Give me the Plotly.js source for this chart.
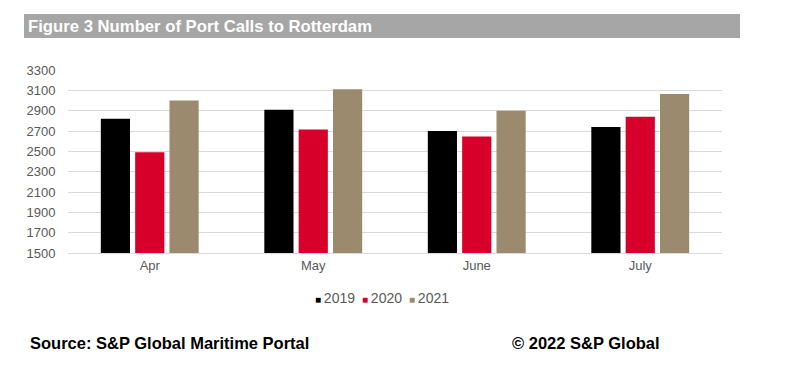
<!DOCTYPE html>
<html>
<head>
<meta charset="utf-8">
<script src="https://cdn.plot.ly/plotly-3.0.1.min.js"></script>
<style>html,body{margin:0;padding:0;background:#fff;}#chart{width:801px;height:374px;}</style>
</head>
<body>
<div id="chart"></div>
<script>
const months = ["Apr", "May", "June", "July"];
const years = ["2019", "2020", "2021"];
const calls2019 = [2820, 2910, 2700, 2740];
const calls2020 = [2490, 2715, 2645, 2840];
const calls2021 = [3000, 3110, 2900, 3065];
const yTicks = [1500, 1700, 1900, 2100, 2300, 2500, 2700, 2900, 3100, 3300];
const colors = ["#000000", "#d6002a", "#9c8a6e"];

const series = [calls2019, calls2020, calls2021];
const data = series.map((vals, i) => ({
  type: "bar",
  name: years[i],
  x: months,
  y: vals,
  marker: {color: colors[i]},
  hoverinfo: "skip"
}));

const legendText = years.map((y, i) =>
  '<span style="color:' + colors[i] + ';font-size:10px">■</span>\u2009' + y).join('\u2002');

const layout = {
  width: 801, height: 374,
  margin: {l: 68, r: 79, t: 70, b: 121},
  paper_bgcolor: "#fff", plot_bgcolor: "#fff",
  font: {family: "Liberation Sans, Arial, sans-serif", size: 13, color: "#595959"},
  barmode: "group",
  bargap: 0.37,
  bargroupgap: 0.15,
  showlegend: false,
  title: {text: "<b>Figure 3 Number of Port Calls to Rotterdam</b>", x: 28/801, xanchor: "left",
          xref: "container", y: 1 - 26/374, yanchor: "middle", yref: "container",
          font: {size: 16.7, color: "#ffffff", family: "Liberation Sans, Arial, sans-serif"}},
  xaxis: {type: "category", showgrid: false, zeroline: false, showline: true, linecolor: "#d9d9d9",
          ticks: "", tickfont: {size: 13, color: "#595959"}},
  yaxis: {range: [1500, 3300], tickvals: yTicks, ticktext: yTicks.map(String),
          showgrid: true, gridcolor: "#d9d9d9", gridwidth: 1, zeroline: false, showline: false,
          ticks: "outside", ticklen: 9, tickcolor: "rgba(0,0,0,0)", tickfont: {size: 13, color: "#595959"}},
  shapes: [{type: "rect", xref: "paper", yref: "paper", x0: (24-68)/654, x1: (740-68)/654,
            y0: (253-38)/183, y1: (253-14)/183, fillcolor: "#a6a6a6", line: {width: 0}, layer: "below"}],
  annotations: [
    {text: legendText, xref: "paper", yref: "paper",
     x: (382-68)/654, xanchor: "center", y: (253-298)/183, yanchor: "middle", showarrow: false,
     font: {size: 14, color: "#595959"}},
    {text: "<b>Source: S&P Global Maritime Portal</b>", xref: "paper", yref: "paper",
     x: (28-68)/654, xanchor: "left", y: (253-343)/183, yanchor: "middle", showarrow: false,
     font: {size: 16.5, color: "#000000"}},
    {text: "<b>© 2022 S&P Global</b>", xref: "paper", yref: "paper",
     x: (510-68)/654, xanchor: "left", y: (253-343)/183, yanchor: "middle", showarrow: false,
     font: {size: 16.5, color: "#000000"}}
  ]
};

Plotly.newPlot("chart", data, layout, {displayModeBar: false, staticPlot: true});
</script>
</body>
</html>
